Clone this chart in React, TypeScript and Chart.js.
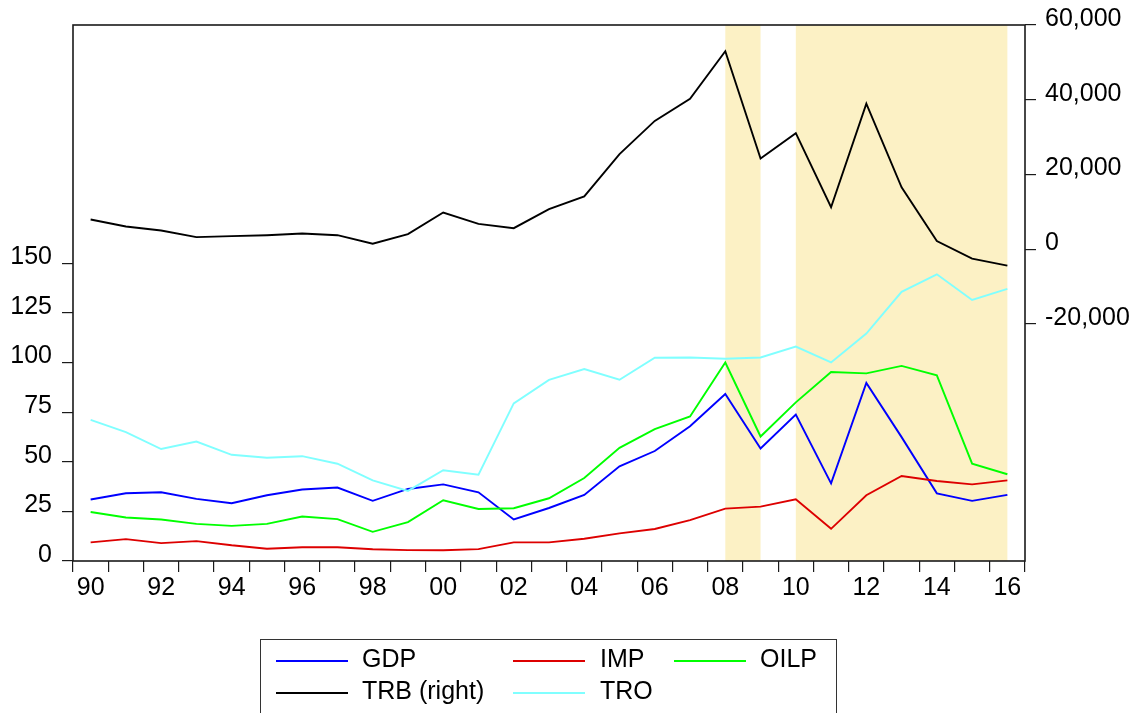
import React, { useEffect, useRef } from "react";
import { Chart, registerables } from "chart.js";

Chart.register(...registerables);

const years = ["90","91","92","93","94","95","96","97","98","99","00","01","02","03","04","05","06","07","08","09","10","11","12","13","14","15","16"];

const gdp = [31.0, 34.1, 34.6, 31.3, 29.1, 33.1, 36.0, 37.0, 30.3, 36.3, 38.6, 34.6, 20.9, 26.7, 33.3, 47.7, 55.4, 67.9, 84.1, 56.7, 73.8, 39.1, 89.7, 62.4, 34.1, 30.3, 33.3];
const imp = [9.4, 11.0, 9.0, 10.0, 7.9, 6.2, 6.9, 6.9, 5.9, 5.5, 5.4, 6.0, 9.4, 9.4, 11.2, 13.9, 16.1, 20.6, 26.4, 27.4, 31.1, 16.2, 33.1, 42.8, 40.3, 38.6, 40.6];
const oilp = [24.7, 21.9, 20.9, 18.7, 17.7, 18.7, 22.4, 21.1, 14.7, 19.6, 30.6, 26.2, 26.6, 31.6, 41.8, 57.0, 66.4, 72.8, 100.0, 62.7, 79.9, 95.2, 94.5, 98.3, 93.5, 49.0, 43.7];
const trb = [7920, 6050, 4990, 3200, 3470, 3730, 4190, 3730, 1440, 4000, 9790, 6770, 5600, 10700, 14130, 25440, 34320, 40270, 52990, 24270, 31040, 11200, 38940, 16540, 2140, -2570, -4430];
const tro = [71.1, 64.9, 56.4, 60.2, 53.5, 52.0, 52.8, 49.0, 40.6, 35.3, 45.7, 43.5, 79.4, 91.2, 96.7, 91.3, 102.4, 102.5, 101.9, 102.5, 108.0, 100.0, 114.6, 135.6, 144.4, 131.5, 137.1];

// shaded periods as [startIndex, endIndex] into years
const shadedPeriods = [[18, 19], [20, 26]];

const leftTicks = [0, 25, 50, 75, 100, 125, 150];
const rightTicks = [-20000, 0, 20000, 40000, 60000];

const FONT = "'Liberation Sans', Arial, sans-serif";

const legendItems = [
  { label: "GDP", color: "#0000FF", row: 0, col: 0 },
  { label: "IMP", color: "#DD0000", row: 0, col: 1 },
  { label: "OILP", color: "#00FF00", row: 0, col: 2 },
  { label: "TRB (right)", color: "#000000", row: 1, col: 0 },
  { label: "TRO", color: "#80FFFF", row: 1, col: 1 },
];

const shadePlugin = {
  id: "shade",
  beforeDatasetsDraw(chart: any) {
    const { ctx, chartArea, scales } = chart;
    ctx.save();
    ctx.fillStyle = "#FCF1C5";
    for (const [a, b] of shadedPeriods) {
      const x0 = scales.x.getPixelForValue(a);
      const x1 = scales.x.getPixelForValue(b);
      ctx.fillRect(x0, chartArea.top, x1 - x0, chartArea.bottom - chartArea.top);
    }
    ctx.restore();
  },
  afterDraw(chart: any) {
    const { ctx, chartArea } = chart;
    ctx.save();
    ctx.strokeStyle = "#1a1a1a";
    ctx.lineWidth = 1.6;
    ctx.strokeRect(chartArea.left, chartArea.top, chartArea.right - chartArea.left, chartArea.bottom - chartArea.top);
    ctx.restore();
  },
};

export default function App() {
  const ref = useRef<HTMLCanvasElement>(null);

  useEffect(() => {
    if (!ref.current) return;
    const lw = 1.9;
    const chart = new Chart(ref.current, {
      type: "line",
      data: {
        labels: years,
        datasets: [
          { label: "TRO", data: tro, borderColor: "#80FFFF", yAxisID: "y", borderWidth: lw, pointRadius: 0, tension: 0 },
          { label: "IMP", data: imp, borderColor: "#DD0000", yAxisID: "y", borderWidth: lw, pointRadius: 0, tension: 0 },
          { label: "OILP", data: oilp, borderColor: "#00FF00", yAxisID: "y", borderWidth: lw, pointRadius: 0, tension: 0 },
          { label: "GDP", data: gdp, borderColor: "#0000FF", yAxisID: "y", borderWidth: lw, pointRadius: 0, tension: 0 },
          { label: "TRB (right)", data: trb, borderColor: "#000000", yAxisID: "y1", borderWidth: lw, pointRadius: 0, tension: 0 },
        ],
      },
      options: {
        animation: false,
        responsive: false,
        devicePixelRatio: 1,
        layout: { padding: { top: 22, bottom: 92, left: 0, right: 0 } },
        plugins: { legend: { display: false }, tooltip: { enabled: false } },
        scales: {
          x: {
            type: "category",
            offset: true,
            grid: { offset: true, drawOnChartArea: false, drawTicks: true, tickLength: 11, color: "#1a1a1a", lineWidth: 1.2 },
            border: { display: false },
            ticks: {
              autoSkip: false,
              maxRotation: 0,
              minRotation: 0,
              padding: 1,
              color: "#000",
              font: { family: FONT, size: 25 },
              callback: (_v: any, i: number) => (i % 2 === 0 ? years[i] : ""),
            },
            afterFit: (s: any) => { s.height = 60; },
          },
          y: {
            type: "linear",
            position: "left",
            min: 0,
            max: 270,
            grid: { drawOnChartArea: false, drawTicks: true, tickLength: 11, color: "#1a1a1a", lineWidth: 1.2 },
            border: { display: false },
            ticks: {
              padding: 10,
              labelOffset: -6,
              color: "#000",
              font: { family: FONT, size: 25 },
            },
            afterBuildTicks: (s: any) => { s.ticks = leftTicks.map((v) => ({ value: v })); },
            afterFit: (s: any) => { s.width = 73; },
          },
          y1: {
            type: "linear",
            position: "right",
            min: -83500,
            max: 60000,
            grid: { drawOnChartArea: false, drawTicks: true, tickLength: 11, color: "#1a1a1a", lineWidth: 1.2 },
            border: { display: false },
            ticks: {
              padding: 9,
              labelOffset: -6,
              color: "#000",
              font: { family: FONT, size: 25 },
              callback: (v: any) => Number(v).toLocaleString("en-US"),
            },
            afterBuildTicks: (s: any) => { s.ticks = rightTicks.map((v) => ({ value: v })); },
            afterFit: (s: any) => { s.width = 123; },
          },
        },
      },
      plugins: [shadePlugin],
    });
    return () => chart.destroy();
  }, []);

  const colX = [276, 513, 674];
  const textX = [362, 600, 760];
  const rowY = [661, 693];
  const textTop = [643, 675];

  return (
    <div style={{ position: "absolute", left: 0, top: 0, width: 1148, height: 713, overflow: "hidden", background: "#fff" }}>
      <canvas ref={ref} width={1148} height={713} style={{ position: "absolute", left: 0, top: 0, width: 1148, height: 713 }} />
      <div style={{ position: "absolute", left: 260, top: 639, width: 577, height: 100, border: "1px solid #333", boxSizing: "border-box" }} />
      {legendItems.map((it) => (
        <React.Fragment key={it.label}>
          <div style={{ position: "absolute", left: colX[it.col], top: rowY[it.row] - 1, width: 72, height: 2, background: it.color }} />
          <div style={{ position: "absolute", left: textX[it.col], top: textTop[it.row], fontFamily: FONT, fontSize: 25, lineHeight: "30px", color: "#000", whiteSpace: "nowrap" }}>{it.label}</div>
        </React.Fragment>
      ))}
    </div>
  );
}
